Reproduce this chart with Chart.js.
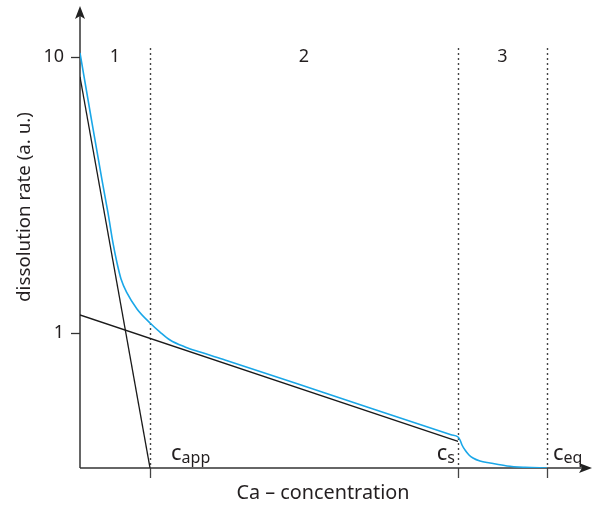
<!DOCTYPE html>
<html><head><meta charset="utf-8">
<script src="https://cdn.jsdelivr.net/npm/chart.js@4/dist/chart.umd.min.js"></script>
<style>html,body{margin:0;padding:0;background:#fff}#wrap{width:600px;height:505px}</style>
</head><body><div id="wrap"><canvas id="c" width="600" height="505"></canvas></div>
<script>
// Ca concentration (arbitrary units) and dissolution rate (a. u.)
const blueX = [0, 0.157, 0.314, 0.4, 0.471, 0.529, 0.586, 0.671, 0.814, 1.0, 1.143, 1.286, 1.5, 1.714, 2.071, 3.5, 5.3, 5.4, 5.429, 5.457, 5.5, 5.557, 5.614, 5.714, 5.857, 6.1, 6.357, 6.671];
const blueY = [10.34, 6.06, 3.584, 2.721, 2.119, 1.793, 1.569, 1.396, 1.222, 1.087, 1.008, 0.943, 0.890, 0.853, 0.798, 0.606, 0.4278, 0.4199, 0.4095, 0.3928, 0.3767, 0.3614, 0.3524, 0.3437, 0.3381, 0.3297, 0.3261, 0.3243];
const steepX = [0, 1.0];
const steepY = [8.47, 0.3243];
const shallowX = [0, 5.4];
const shallowY = [1.162, 0.405];
const yTicks = [1, 10];
const yTickLabels = ['1', '10'];
const boundaries = [0, 1.0, 5.4, 6.671];
const regionLabels = ['1', '2', '3'];
const concLabels = [{base: 'c', sub: 'app', at: 1.0}, {base: 'c', sub: 's', at: 5.4}, {base: 'c', sub: 'eq', at: 6.671}];
const xTitle = 'Ca – concentration';
const yTitle = 'dissolution rate (a. u.)';

const toPts = (xs, ys) => xs.map((x, i) => ({x, y: ys[i]}));
const FONT = '"Noto Sans", sans-serif';
const INK = '#231f20';

function fitFont(ctx, text, width) {
  ctx.font = '20px ' + FONT;
  const w = ctx.measureText(text).width;
  return (20 * width / w).toFixed(2) + 'px ' + FONT;
}

const deco = {
  id: 'deco',
  beforeDatasetsDraw(chart) {
    const {ctx, chartArea: a, scales: {x, y}} = chart;
    ctx.save();
    ctx.strokeStyle = '#444';
    ctx.lineWidth = 1.4;
    ctx.setLineDash([2, 3]);
    boundaries.slice(1).forEach(b => {
      const px = Math.round(x.getPixelForValue(b)) + 0.5;
      ctx.beginPath(); ctx.moveTo(px, a.top + 36); ctx.lineTo(px, a.bottom); ctx.stroke();
    });
    ctx.setLineDash([]);
    ctx.strokeStyle = '#444'; ctx.lineWidth = 1.3;
    boundaries.slice(1).forEach(b => {
      const px = Math.round(x.getPixelForValue(b)) + 0.5;
      ctx.beginPath(); ctx.moveTo(px, a.bottom); ctx.lineTo(px, a.bottom + 10); ctx.stroke();
    });
    ctx.strokeStyle = '#333'; ctx.lineWidth = 1.5;
    ctx.beginPath(); ctx.moveTo(a.left, a.bottom); ctx.lineTo(a.left, a.top); ctx.stroke();
    ctx.beginPath(); ctx.moveTo(a.left, a.bottom); ctx.lineTo(a.right - 4, a.bottom); ctx.stroke();
    ctx.fillStyle = '#222';
    ctx.beginPath(); ctx.moveTo(a.left, a.top - 6); ctx.lineTo(a.left - 5, a.top + 7); ctx.lineTo(a.left, a.top + 4); ctx.lineTo(a.left + 5, a.top + 7); ctx.closePath(); ctx.fill();
    ctx.beginPath(); ctx.moveTo(a.right, a.bottom); ctx.lineTo(a.right - 13, a.bottom - 5); ctx.lineTo(a.right - 10, a.bottom); ctx.lineTo(a.right - 13, a.bottom + 5); ctx.closePath(); ctx.fill();
    ctx.lineWidth = 1.3;
    yTicks.forEach(v => {
      const py = Math.round(y.getPixelForValue(v)) + 0.5;
      ctx.beginPath(); ctx.moveTo(a.left - 9, py); ctx.lineTo(a.left, py); ctx.stroke();
    });
    ctx.restore();
  },
  afterDraw(chart) {
    const {ctx, chartArea: a, scales: {x, y}} = chart;
    ctx.save();
    ctx.fillStyle = INK;
    ctx.textBaseline = 'middle';
    ctx.font = '18px ' + FONT;
    ctx.textAlign = 'right';
    yTicks.forEach((v, i) => ctx.fillText(yTickLabels[i], a.left - 16, y.getPixelForValue(v)));
    ctx.textAlign = 'center';
    regionLabels.forEach((t, i) => {
      const cx = x.getPixelForValue((boundaries[i] + boundaries[i + 1]) / 2);
      ctx.fillText(t, cx, a.top + 45);
    });
    ctx.textBaseline = 'alphabetic';
    ctx.textAlign = 'left';
    const baseF = '22px ' + FONT, subF = '16px ' + FONT;
    concLabels.forEach((c, i) => {
      const px = x.getPixelForValue(c.at);
      ctx.font = baseF;
      const wb = ctx.measureText(c.base).width;
      ctx.font = subF;
      const ws = ctx.measureText(c.sub).width;
      let left;
      if (i === 0) left = px + 21;
      else if (i === 1) left = px - 3 - wb - ws;
      else left = px + 6;
      ctx.font = baseF;
      ctx.fillText(c.base, left, a.bottom - 8);
      ctx.font = subF;
      ctx.fillText(c.sub, left + wb, a.bottom - 5);
    });
    ctx.textAlign = 'center';
    ctx.textBaseline = 'middle';
    ctx.font = fitFont(ctx, xTitle, 173);
    ctx.fillText(xTitle, 323, a.bottom + 25);
    ctx.font = fitFont(ctx, yTitle, 190);
    ctx.translate(25, 207);
    ctx.rotate(-Math.PI / 2);
    ctx.fillText(yTitle, 0, 0);
    ctx.restore();
  }
};

new Chart(document.getElementById('c'), {
  type: 'scatter',
  data: {
    datasets: [
      {data: toPts(steepX, steepY), showLine: true, borderColor: '#1a1a1a', borderWidth: 1.3, pointRadius: 0},
      {data: toPts(shallowX, shallowY), showLine: true, borderColor: '#1a1a1a', borderWidth: 1.3, pointRadius: 0},
      {data: toPts(blueX, blueY), showLine: true, borderColor: '#1aa7e8', borderWidth: 1.6, pointRadius: 0, cubicInterpolationMode: 'monotone'}
    ]
  },
  options: {
    responsive: false, animation: false,
    layout: {padding: {left: 80, right: 8, top: 12, bottom: 37}},
    plugins: {legend: {display: false}, tooltip: {enabled: false}},
    scales: {
      x: {type: 'linear', min: 0, max: 7.314, display: false, bounds: 'data'},
      y: {type: 'logarithmic', min: 0.3242, max: 14.55, display: false, bounds: 'data'}
    }
  },
  plugins: [deco]
});
</script></body></html>
